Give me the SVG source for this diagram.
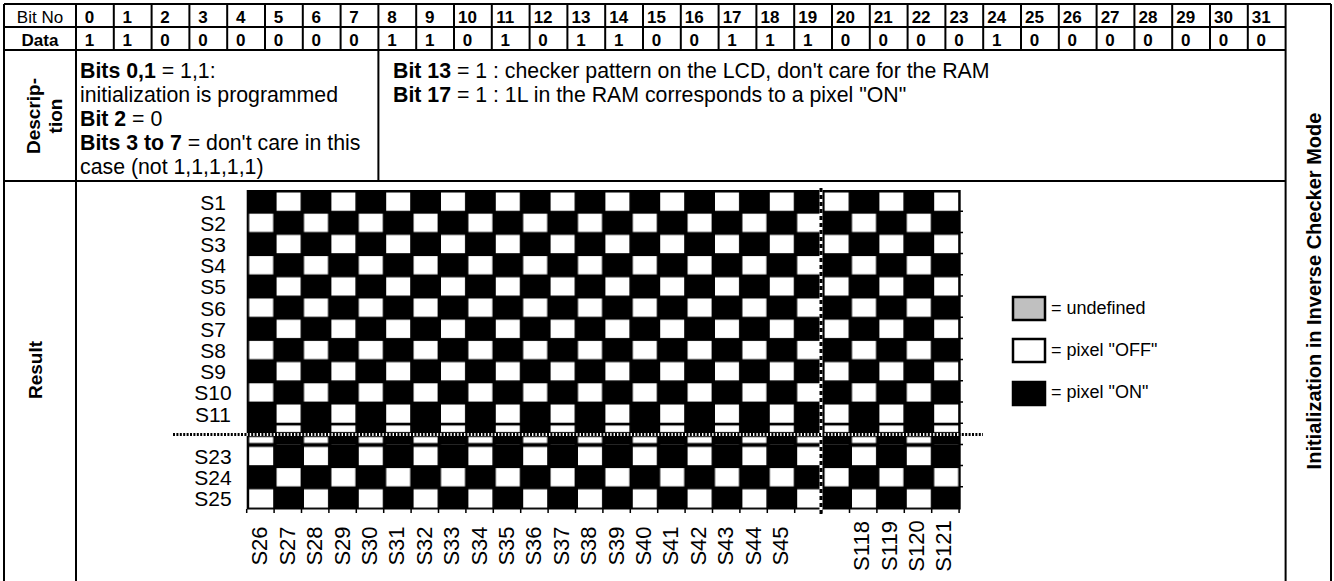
<svg xmlns="http://www.w3.org/2000/svg" width="1334" height="581" viewBox="0 0 1334 581">
<style>
text{font-family:"Liberation Sans",Arial,sans-serif;fill:#000}
.hd{font-size:17px;font-weight:bold;text-anchor:middle}
.hl{font-size:17px;text-anchor:middle}
.ds{font-size:21.3px}
.b{font-weight:bold}
.rl{font-size:21px;text-anchor:middle}
.cl{font-size:22px;text-anchor:middle}
.lg{font-size:18px}
.vt{font-size:19px;font-weight:bold;text-anchor:middle}
.ln{stroke:#000;stroke-width:2;fill:none}
.tk{stroke:#000;stroke-width:1.5;fill:none}
</style>
<defs>
<pattern id="chk" x="246.7" y="190" width="54.8" height="42.4" patternUnits="userSpaceOnUse">
<rect x="29.9" y="2.5" width="24" height="18.3" fill="#fff"/>
<rect x="2.5" y="23.7" width="24" height="18.3" fill="#fff"/>
</pattern>
<pattern id="chk2" x="274.1" y="190" width="54.8" height="42.4" patternUnits="userSpaceOnUse">
<rect x="29.9" y="2.5" width="24" height="18.3" fill="#fff"/>
<rect x="2.5" y="23.7" width="24" height="18.3" fill="#fff"/>
</pattern>
<pattern id="brk" x="246.7" y="423.2" width="54.8" height="21.2" patternUnits="userSpaceOnUse">
<rect x="29.9" y="2.3" width="24" height="6.5" fill="#fff"/>
<rect x="2.5" y="13.8" width="24" height="6" fill="#fff"/>
</pattern>
</defs>
<rect x="0" y="0" width="1334" height="581" fill="#fff"/>

<g id="table">
<path class="ln" d="M4,4 H1331 M4,27 H1285.6 M4,50 H1285.6 M4,181 H1285.6 M4,4 V581 M76,4 V581 M1285.6,4 V581 M1331,4 V581 M378.4,50 V181"/>
<path class="ln" d="M113.8,4V50 M151.6,4V50 M189.4,4V50 M227.2,4V50 M265,4V50 M302.8,4V50 M340.6,4V50 M378.4,4V50 M416.2,4V50 M454,4V50 M491.8,4V50 M529.6,4V50 M567.4,4V50 M605.2,4V50 M643,4V50 M680.8,4V50 M718.6,4V50 M756.4,4V50 M794.2,4V50 M832,4V50 M869.8,4V50 M907.6,4V50 M945.4,4V50 M983.2,4V50 M1021,4V50 M1058.8,4V50 M1096.6,4V50 M1134.4,4V50 M1172.2,4V50 M1210,4V50 M1247.8,4V50"/>
</g>

<g id="header">
<text class="hl" x="40" y="22.5">Bit No</text>
<text class="hd" x="40" y="45.5">Data</text>
<g class="hd">
<text x="89.5" y="22.5">0</text><text x="127.3" y="22.5">1</text><text x="165.1" y="22.5">2</text><text x="202.9" y="22.5">3</text><text x="240.7" y="22.5">4</text><text x="278.5" y="22.5">5</text><text x="316.3" y="22.5">6</text><text x="354.1" y="22.5">7</text><text x="391.9" y="22.5">8</text><text x="429.7" y="22.5">9</text><text x="467.5" y="22.5">10</text><text x="505.3" y="22.5">11</text><text x="543.1" y="22.5">12</text><text x="580.9" y="22.5">13</text><text x="618.7" y="22.5">14</text><text x="656.5" y="22.5">15</text><text x="694.3" y="22.5">16</text><text x="732.1" y="22.5">17</text><text x="769.9" y="22.5">18</text><text x="807.7" y="22.5">19</text><text x="845.5" y="22.5">20</text><text x="883.3" y="22.5">21</text><text x="921.1" y="22.5">22</text><text x="958.9" y="22.5">23</text><text x="996.7" y="22.5">24</text><text x="1034.5" y="22.5">25</text><text x="1072.3" y="22.5">26</text><text x="1110.1" y="22.5">27</text><text x="1147.9" y="22.5">28</text><text x="1185.7" y="22.5">29</text><text x="1223.5" y="22.5">30</text><text x="1261.3" y="22.5">31</text>
<text x="89.5" y="45.5">1</text><text x="127.3" y="45.5">1</text><text x="165.1" y="45.5">0</text><text x="202.9" y="45.5">0</text><text x="240.7" y="45.5">0</text><text x="278.5" y="45.5">0</text><text x="316.3" y="45.5">0</text><text x="354.1" y="45.5">0</text><text x="391.9" y="45.5">1</text><text x="429.7" y="45.5">1</text><text x="467.5" y="45.5">0</text><text x="505.3" y="45.5">1</text><text x="543.1" y="45.5">0</text><text x="580.9" y="45.5">1</text><text x="618.7" y="45.5">1</text><text x="656.5" y="45.5">0</text><text x="694.3" y="45.5">0</text><text x="732.1" y="45.5">1</text><text x="769.9" y="45.5">1</text><text x="807.7" y="45.5">1</text><text x="845.5" y="45.5">0</text><text x="883.3" y="45.5">0</text><text x="921.1" y="45.5">0</text><text x="958.9" y="45.5">0</text><text x="996.7" y="45.5">1</text><text x="1034.5" y="45.5">0</text><text x="1072.3" y="45.5">0</text><text x="1110.1" y="45.5">0</text><text x="1147.9" y="45.5">0</text><text x="1185.7" y="45.5">0</text><text x="1223.5" y="45.5">0</text><text x="1261.3" y="45.5">0</text>
</g>
</g>

<g id="description">
<text class="vt" transform="translate(40,116) rotate(-90)">Descrip-</text>
<text class="vt" transform="translate(62,116) rotate(-90)">tion</text>
<text class="ds" x="80" y="78"><tspan class="b">Bits 0,1</tspan> = 1,1:</text>
<text class="ds" x="80" y="102">initialization is programmed</text>
<text class="ds" x="80" y="126"><tspan class="b">Bit 2</tspan> = 0</text>
<text class="ds" x="80" y="150"><tspan class="b">Bits 3 to 7</tspan> = don't care in this</text>
<text class="ds" x="80" y="174">case (not 1,1,1,1,1)</text>
<text class="ds" x="393" y="78"><tspan class="b">Bit 13</tspan> = 1 : checker pattern on the LCD, don't care for the RAM</text>
<text class="ds" x="393" y="102"><tspan class="b">Bit 17</tspan> = 1 : 1L in the RAM corresponds to a pixel "ON"</text>
</g>

<g id="title">
<text transform="translate(1321,291) rotate(-90)" style="font-size:20px;font-weight:bold;text-anchor:middle">Initialization in Inverse Checker Mode</text>
<text class="vt" transform="translate(42,370) rotate(-90)">Result</text>
</g>

<g id="grid">
<rect x="246.7" y="190" width="714" height="319.5" fill="#000"/>
<rect x="246.7" y="190" width="714" height="233.2" fill="url(#chk)"/>
<rect x="246.7" y="423.2" width="714" height="21.2" fill="url(#brk)"/>
<rect x="246.7" y="444.4" width="714" height="65" fill="url(#chk2)"/>
<path class="tk" d="M246.7,509V513 M274.1,509V513 M301.5,509V513 M328.9,509V513 M356.3,509V513 M383.7,509V513 M411.1,509V513 M438.5,509V513 M465.9,509V513 M493.3,509V513 M520.7,509V513 M548.1,509V513 M575.5,509V513 M602.9,509V513 M630.3,509V513 M657.7,509V513 M685.1,509V513 M712.5,509V513 M739.9,509V513 M767.3,509V513 M794.7,509V513 M822.1,509V513 M849.5,509V513 M876.9,509V513 M904.3,509V513 M931.7,509V513 M959.1,509V513"/>
<path class="tk" d="M960,211.2H963 M960,232.4H963 M960,253.6H963 M960,274.8H963 M960,296H963 M960,317.2H963 M960,338.4H963 M960,359.6H963 M960,380.8H963 M960,402H963 M960,423.2H963 M960,444.4H963 M960,465.6H963 M960,486.8H963"/>
<path d="M821,188V514" stroke="#fff" stroke-width="3"/>
<path d="M821,188V514" stroke="#000" stroke-width="3" stroke-dasharray="4 3"/>
<path d="M246.7,434.5H960" stroke="#fff" stroke-width="3"/>
<path d="M173,434.5H983" stroke="#000" stroke-width="3" stroke-dasharray="2 1.4"/>
</g>

<g id="row-labels" class="rl">
<text x="213" y="209.5">S1</text><text x="213" y="230.7">S2</text><text x="213" y="251.9">S3</text><text x="213" y="273.1">S4</text><text x="213" y="294.3">S5</text><text x="213" y="315.5">S6</text><text x="213" y="336.7">S7</text><text x="213" y="357.9">S8</text><text x="213" y="379.1">S9</text><text x="213" y="400.3">S10</text><text x="213" y="421.5">S11</text><text x="213" y="463.9">S23</text><text x="213" y="485.1">S24</text><text x="213" y="506.3">S25</text>
</g>

<g id="col-labels" class="cl">
<text transform="translate(267.4,546) rotate(-90)">S26</text>
<text transform="translate(294.8,546) rotate(-90)">S27</text>
<text transform="translate(322.2,546) rotate(-90)">S28</text>
<text transform="translate(349.6,546) rotate(-90)">S29</text>
<text transform="translate(377,546) rotate(-90)">S30</text>
<text transform="translate(404.4,546) rotate(-90)">S31</text>
<text transform="translate(431.8,546) rotate(-90)">S32</text>
<text transform="translate(459.2,546) rotate(-90)">S33</text>
<text transform="translate(486.6,546) rotate(-90)">S34</text>
<text transform="translate(514,546) rotate(-90)">S35</text>
<text transform="translate(541.4,546) rotate(-90)">S36</text>
<text transform="translate(568.8,546) rotate(-90)">S37</text>
<text transform="translate(596.2,546) rotate(-90)">S38</text>
<text transform="translate(623.6,546) rotate(-90)">S39</text>
<text transform="translate(651,546) rotate(-90)">S40</text>
<text transform="translate(678.4,546) rotate(-90)">S41</text>
<text transform="translate(705.8,546) rotate(-90)">S42</text>
<text transform="translate(733.2,546) rotate(-90)">S43</text>
<text transform="translate(760.6,546) rotate(-90)">S44</text>
<text transform="translate(788,546) rotate(-90)">S45</text>
<text transform="translate(869.2,546) rotate(-90)">S118</text>
<text transform="translate(896.6,546) rotate(-90)">S119</text>
<text transform="translate(924,546) rotate(-90)">S120</text>
<text transform="translate(951.4,546) rotate(-90)">S121</text>
</g>

<g id="legend">
<rect x="1013" y="297" width="32" height="23" fill="#c0c0c0" stroke="#000" stroke-width="2.5"/>
<text class="lg" x="1051" y="314">= undefined</text>
<rect x="1013" y="339" width="32" height="23" fill="#fff" stroke="#000" stroke-width="2.5"/>
<text class="lg" x="1051" y="356">= pixel "OFF"</text>
<rect x="1013" y="382" width="32" height="23" fill="#000" stroke="#000" stroke-width="2.5"/>
<text class="lg" x="1051" y="398">= pixel "ON"</text>
</g>
</svg>
